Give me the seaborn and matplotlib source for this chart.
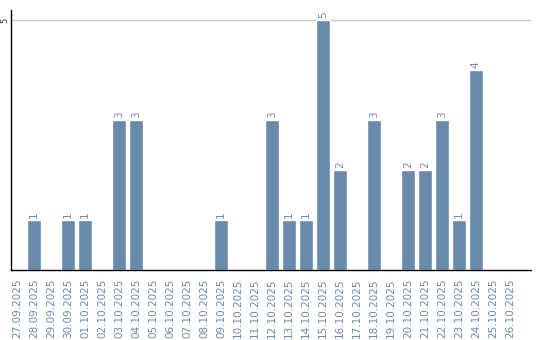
import matplotlib
matplotlib.use("Agg")
import matplotlib.pyplot as plt
import seaborn as sns
import pandas as pd

dates = ["27.09.2025", "28.09.2025", "29.09.2025", "30.09.2025", "01.10.2025",
         "02.10.2025", "03.10.2025", "04.10.2025", "05.10.2025", "06.10.2025",
         "07.10.2025", "08.10.2025", "09.10.2025", "10.10.2025", "11.10.2025",
         "12.10.2025", "13.10.2025", "14.10.2025", "15.10.2025", "16.10.2025",
         "17.10.2025", "18.10.2025", "19.10.2025", "20.10.2025", "21.10.2025",
         "22.10.2025", "23.10.2025", "24.10.2025", "25.10.2025", "26.10.2025"]
values = [0, 1, 0, 1, 1,
          0, 3, 3, 0, 0,
          0, 0, 1, 0, 0,
          3, 1, 1, 5, 2,
          0, 3, 0, 2, 2,
          3, 1, 4, 0, 0]
yticks = [5]

bar_color = "#6a8aab"
label_color = "#6a8aab"
value_color = "#7a8a9e"

sns.set_style("white")
plt.rcParams['font.family'] = ['DejaVu Sans']

df = pd.DataFrame({"date": dates, "count": values})

fig = plt.figure(figsize=(5.4, 3.4), dpi=100)
ax = fig.add_axes([11/540, 1 - 270/340, 520/540, 260/340])

sns.barplot(data=df, x="date", y="count", color=bar_color, saturation=1,
            width=0.82, ax=ax, order=dates)

for cont in ax.containers:
    labels = [str(int(v)) if v else "" for v in cont.datavalues]
    ax.bar_label(cont, labels=labels, rotation=90, padding=1.5,
                 fontsize=7.5, color=value_color)

ax.set_xlim(-0.353, 30.24)
ax.set_ylim(0, 5.2)
ax.set_yticks(yticks)
ax.set_yticklabels([str(t) for t in yticks], rotation=90, va="center",
                   fontsize=6, color="#333333")
ax.tick_params(axis="y", length=0, pad=1)
ax.tick_params(axis="x", length=0, pad=6)
for lbl in ax.get_xticklabels():
    lbl.set_rotation(90)
    lbl.set_fontsize(7.5)
    lbl.set_color(label_color)
ax.grid(axis="y", color="#c8c8c8", linewidth=1)
ax.set_axisbelow(True)
ax.set_xlabel("")
ax.set_ylabel("")
for s in ["top", "right"]:
    ax.spines[s].set_visible(False)
for s in ["left", "bottom"]:
    ax.spines[s].set_color("black")
    ax.spines[s].set_linewidth(1.0)

fig.savefig("out.png", dpi=100)
